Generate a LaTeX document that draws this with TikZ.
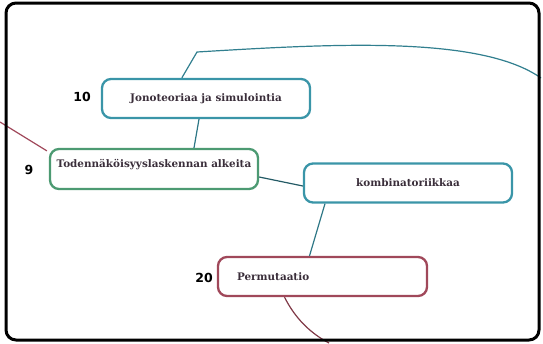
\documentclass[tikz,border=0pt]{standalone}
\usepackage{fontspec}
\setmainfont{DejaVu Serif}
\setsansfont{DejaVu Sans}
\usetikzlibrary{positioning}
\definecolor{tealline}{HTML}{3A95A8}
\definecolor{greenline}{HTML}{4C9A72}
\definecolor{redline}{HTML}{A0485A}
\definecolor{topictext}{HTML}{3A2E3A}

\begin{document}
\begin{tikzpicture}[x=1pt,y=-1pt,% pixel-like units, y going down
        every node/.style={inner sep=0pt},
        topic/.style={draw,line width=2.3pt,rounded corners=9pt,minimum width=208pt,minimum height=39pt,
                font=\bfseries\fontsize{10.4}{12}\selectfont,text=topictext},
        weight/.style={font=\sffamily\bfseries\fontsize{12.5}{14}\selectfont}]
\useasboundingbox (0,0) rectangle (543,343);

\node[topic,draw=tealline] (jono) at (206,98.5) {Jonoteoriaa ja simulointia};
\node[topic,draw=greenline,text height=12pt,text depth=16pt,inner ysep=6pt] (toden) at (154,169) {Todennäköisyyslaskennan alkeita};
\node[topic,draw=tealline] (kombi) at (408,183) {kombinatoriikkaa};
\node[topic,draw=redline,text width=171pt,inner xsep=19pt,align=left] (perm) at (322.5,276.5) {Permutaatio};

\foreach[count=\xi] \x/\y/\w in {82/97/10,29/170/9,204/278/20}{ %\xi counts the weights
\node[weight] (w-\xi) at (\x,\y) {\w};
}

% connectors, drawn before the frame
\coordinate (rightend) at (541,78);
\coordinate (leftend) at (0,122);
\coordinate (bottomend) at (329,343);
\draw[tealline!85!black,line width=1.2pt] (jono.north west) ++(81,0) -- (197,52)
        .. controls (330,44) and (480,35) .. (rightend);
\draw[tealline!80!black,line width=1.2pt] (jono.south) ++(-7,0) -- ([xshift=40pt]toden.north);
\draw[redline,line width=1.2pt] (leftend) -- ([xshift=-2pt,yshift=-3pt]toden.north west);
\draw[tealline!60!black,line width=1.2pt] (toden.east) ++(0,8) -- ([yshift=-3pt]kombi.west);
\draw[tealline!80!black,line width=1.2pt] ([xshift=-83pt]kombi.south) -- ([xshift=-13pt]perm.north);
\draw[redline!80!black,line width=1.2pt] ([xshift=-38pt]perm.south) .. controls (295,318) and (310,333) .. (bottomend);

% outer frame
\draw[line width=3pt,rounded corners=10pt] (6,3) rectangle (539,340);
\end{tikzpicture}
\end{document}
